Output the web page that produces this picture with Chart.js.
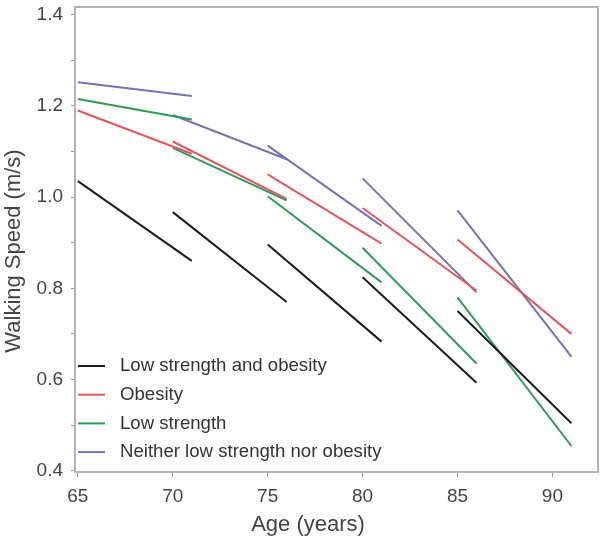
<!DOCTYPE html>
<html>
<head>
<meta charset="utf-8">
<script src="https://cdn.jsdelivr.net/npm/chart.js@4"></script>
<style>
  html, body { margin: 0; padding: 0; background: #fff; }
  #wrap { width: 601px; height: 542px; }
</style>
</head>
<body>
<div id="wrap"><canvas id="chart"></canvas></div>
<script>
// each group is drawn as 5 short 6-year segments
const segStart = [65, 70, 75, 80, 85];
const segEnd = [71, 76, 81, 86, 91];

const groups = ["Low strength and obesity", "Obesity", "Low strength", "Neither low strength nor obesity"];
const colors = ["#1c1c1c", "#e0575c", "#2f9a5c", "#7373b3"];

// speed at start / end of every segment (m/s)
const lowStrObStart = [1.035, 0.967, 0.896, 0.824, 0.750];
const lowStrObEnd = [0.860, 0.770, 0.683, 0.593, 0.504];
const obesityStart = [1.190, 1.122, 1.050, 0.976, 0.907];
const obesityEnd = [1.095, 0.996, 0.898, 0.795, 0.700];
const lowStrStart = [1.215, 1.108, 1.002, 0.889, 0.780];
const lowStrEnd = [1.170, 0.993, 0.813, 0.635, 0.454];
const neitherStart = [1.252, 1.180, 1.113, 1.041, 0.971];
const neitherEnd = [1.222, 1.083, 0.937, 0.791, 0.650];

const xTicks = [65, 70, 75, 80, 85, 90];
const yTicks = [0.4, 0.5, 0.6, 0.7, 0.8, 0.9, 1.0, 1.1, 1.2, 1.3, 1.4];

const starts = [lowStrObStart, obesityStart, lowStrStart, neitherStart];
const ends = [lowStrObEnd, obesityEnd, lowStrEnd, neitherEnd];

const FONT = "'Liberation Sans', Arial, sans-serif";

function segments(s, e) {
  const pts = [];
  segStart.forEach((x0, i) => {
    pts.push({ x: x0, y: s[i] });
    pts.push({ x: segEnd[i], y: e[i] });
    pts.push({ x: segEnd[i], y: null }); // break the line
  });
  return pts;
}

const datasets = groups.map((g, i) => ({
  label: g,
  data: segments(starts[i], ends[i]),
  borderColor: colors[i],
  backgroundColor: colors[i],
  borderWidth: 2,
  pointRadius: 0,
  spanGaps: false,
  tension: 0
}));

// box round the plot, axis titles and the legend inside, lower left
const boxLegend = {
  id: "boxLegend",
  afterDraw(chart) {
    const { ctx, chartArea: a } = chart;
    ctx.save();
    ctx.strokeStyle = "#b4b4b4";
    ctx.lineWidth = 2;
    ctx.strokeRect(a.left, a.top, a.right - a.left, a.bottom - a.top);

    ctx.fillStyle = "#444";
    ctx.font = "22px " + FONT;
    ctx.textAlign = "center";
    ctx.textBaseline = "middle";
    ctx.fillText("Age (years)", 308, 525);
    ctx.save();
    ctx.translate(14, 251);
    ctx.rotate(-Math.PI / 2);
    ctx.fillText("Walking Speed (m/s)", 0, 0);
    ctx.restore();

    ctx.font = "18.6px " + FONT;
    ctx.textAlign = "left";
    groups.forEach((g, i) => {
      const y = 366 + i * 28.7;
      ctx.strokeStyle = colors[i];
      ctx.lineWidth = 2;
      ctx.beginPath();
      ctx.moveTo(78, y);
      ctx.lineTo(105, y);
      ctx.stroke();
      ctx.fillStyle = "#333";
      ctx.fillText(g, 120, y);
    });
    ctx.restore();
  }
};

new Chart(document.getElementById("chart"), {
  type: "line",
  data: { datasets },
  plugins: [boxLegend],
  options: {
    responsive: true,
    maintainAspectRatio: false,
    animation: false,
    layout: { padding: { top: 7, right: 3, left: 0, bottom: 0 } },
    plugins: { legend: { display: false }, tooltip: { enabled: false } },
    scales: {
      x: {
        type: "linear",
        min: 64.85,
        max: 92.4,
        afterFit: (s) => { s.height = 70; s.paddingLeft = 0; s.paddingRight = 0; },
        afterBuildTicks: (s) => { s.ticks = xTicks.map(v => ({ value: v })); },
        grid: { drawOnChartArea: false, drawTicks: true, tickLength: 5, color: "#999" },
        border: { display: false },
        ticks: { color: "#444", font: { family: FONT, size: 19 }, padding: 8, autoSkip: false, maxRotation: 0 }
      },
      y: {
        type: "linear",
        min: 0.397,
        max: 1.417,
        afterFit: (s) => { s.width = 75; s.paddingTop = 0; s.paddingBottom = 0; },
        afterBuildTicks: (s) => { s.ticks = yTicks.map(v => ({ value: v })); },
        grid: { drawOnChartArea: false, drawTicks: true, tickLength: 4, color: "#999" },
        border: { display: false },
        ticks: {
          color: "#444",
          font: { family: FONT, size: 19 },
          padding: 8,
          autoSkip: false,
          callback: (v) => (Math.round(v * 10) % 2 === 0 ? v.toFixed(1) : "")
        }
      }
    }
  }
});
</script>
</body>
</html>
